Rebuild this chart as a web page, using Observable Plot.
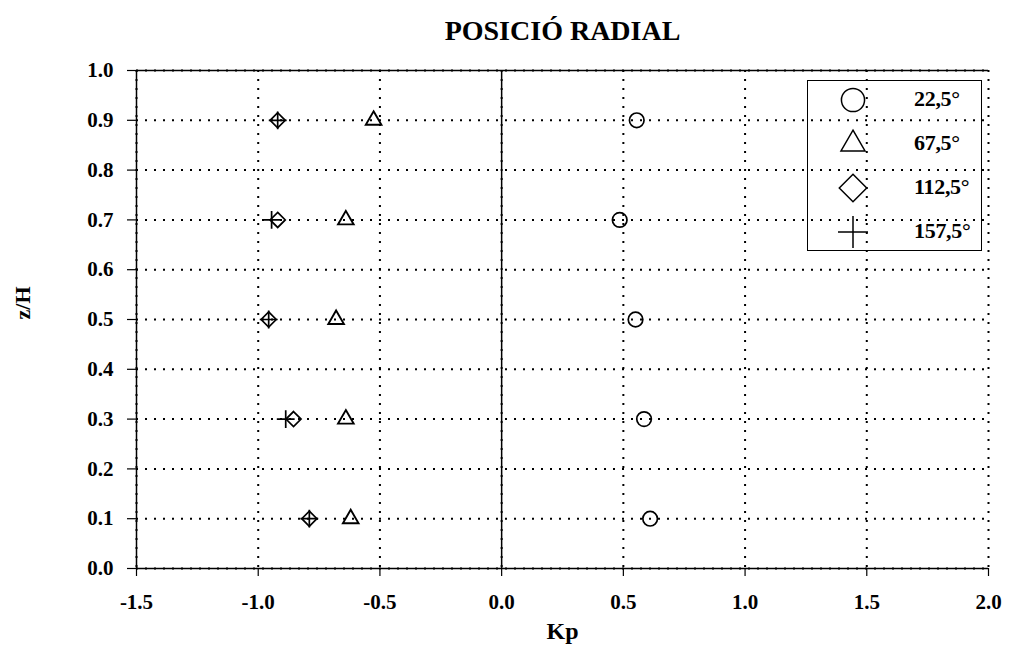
<!DOCTYPE html>
<html>
<head>
<meta charset="utf-8">
<script src="https://cdn.jsdelivr.net/npm/d3@7"></script>
<script src="https://cdn.jsdelivr.net/npm/@observablehq/plot@0.6"></script>
<style>
  html, body { margin: 0; padding: 0; background: #fff; }
  #wrap { position: relative; width: 1010px; height: 656px; font-family: "Liberation Serif", "DejaVu Serif", serif; }
  #legend { position: absolute; left: 807px; top: 80px; width: 175px; height: 171px; border: 1.5px solid #000; box-sizing: border-box; }
  .row { position: absolute; left: 0; width: 100%; height: 40px; }
  .row svg { position: absolute; left: 30px; top: 3px; }
  .row span { position: absolute; left: 106px; top: 5px; font-family: "Liberation Serif", serif; font-weight: bold; font-size: 22px; color: #000; letter-spacing: -0.3px; }
  svg text { font-family: "Liberation Serif", serif; font-weight: bold; }
</style>
</head>
<body>
<div id="wrap"></div>
<script>
// ---- data ----
const zH = [0.1, 0.3, 0.5, 0.7, 0.9];
const kp225 = [0.61, 0.585, 0.55, 0.485, 0.555];
const kp675 = [-0.62, -0.64, -0.68, -0.64, -0.526];
const kp1125 = [-0.79, -0.855, -0.957, -0.92, -0.92];
const kp1575 = [-0.79, -0.887, -0.957, -0.945, -0.92];
const seriesLabels = ["22,5°", "67,5°", "112,5°", "157,5°"];
const xTicks = [-1.5, -1.0, -0.5, 0.0, 0.5, 1.0, 1.5, 2.0];
const yTicks = [0.0, 0.1, 0.2, 0.3, 0.4, 0.5, 0.6, 0.7, 0.8, 0.9, 1.0];
const titleText = "POSICIÓ RADIAL";

const toRows = (kp) => kp.map((k, i) => ({kp: k, z: zH[i]}));
const s1 = toRows(kp225), s2 = toRows(kp675), s3 = toRows(kp1125), s4 = toRows(kp1575);

const fmt = d => d.toFixed(1);
const dotted = "2,7";

const chart = Plot.plot({
  width: 1010,
  height: 656,
  marginTop: 70,
  marginLeft: 136,
  marginRight: 22,
  marginBottom: 88,
  style: {fontFamily: "'Liberation Serif', serif", fontWeight: "bold", fontSize: "22px", color: "#000", background: "#fff"},
  x: {domain: [-1.5, 2.0]},
  y: {domain: [0, 1]},
  marks: [
    Plot.gridX(xTicks, {stroke: "#000", strokeOpacity: 1, strokeWidth: 2, strokeDasharray: dotted}),
    Plot.gridY(yTicks, {stroke: "#000", strokeOpacity: 1, strokeWidth: 2, strokeDasharray: dotted}),
    Plot.ruleY([1], {stroke: "#000", strokeWidth: 1.5}),
    Plot.ruleY([0], {stroke: "#000", strokeWidth: 1.5}),
    Plot.ruleX([-1.5], {stroke: "#000", strokeWidth: 1.5}),
    Plot.ruleX([0], {stroke: "#000", strokeWidth: 1.5}),
    Plot.axisX(xTicks, {tickFormat: fmt, tickSize: 8, tickPadding: 18, label: null, strokeWidth: 1.2}),
    Plot.axisY(yTicks, {tickFormat: fmt, tickSize: 9, tickPadding: 14, label: null, strokeWidth: 1.2}),
    Plot.dot(s1, {x: "kp", y: "z", symbol: "circle", r: 7.3, stroke: "#000", strokeWidth: 1.7, fill: "none"}),
    Plot.dot(s2, {x: "kp", y: "z", symbol: "triangle", r: 5.8, stroke: "#000", strokeWidth: 1.9, fill: "none"}),
    Plot.dot(s3, {x: "kp", y: "z", symbol: "diamond2", r: 6.8, stroke: "#000", strokeWidth: 1.7, fill: "none"}),
    Plot.dot(s4, {x: "kp", y: "z", symbol: "plus", r: 5.8, stroke: "#000", strokeWidth: 1.7, fill: "none"}),
    Plot.text([titleText], {frameAnchor: "top", dy: -50, fontSize: 28, fontWeight: "bold", text: d => d}),
    Plot.text(["Kp"], {frameAnchor: "bottom", dy: 70, fontSize: 24, fontWeight: "bold", text: d => d}),
    Plot.text(["z/H"], {frameAnchor: "left", dx: -114, rotate: -90, fontSize: 22, fontWeight: "bold", text: d => d})
  ]
});

// enlarge tick labels (numeric labels like "0.5", "-1.5")
d3.select(chart).selectAll("text").each(function () {
  if (/^-?\d\.\d$/.test(this.textContent.trim())) {
    this.style.fontSize = "21px";
    this.style.fontFamily = "'Liberation Serif', serif";
    this.style.fontWeight = "bold";
  }
});

const wrap = document.getElementById("wrap");
wrap.appendChild(chart);

// legend
const legend = document.createElement("div");
legend.id = "legend";
const legendSymbols = [d3.symbolCircle, d3.symbolTriangle, d3.symbolDiamond2, d3.symbolPlus];
const legendSizes = [420, 250, 480, 420];
seriesLabels.forEach((lab, i) => {
  const row = document.createElement("div");
  row.className = "row";
  row.style.top = (i * 44) + "px";
  const svg = d3.create("svg").attr("width", 30).attr("height", 32);
  svg.append("path")
    .attr("transform", "translate(15,16)")
    .attr("d", d3.symbol(legendSymbols[i], legendSizes[i])())
    .attr("fill", "none").attr("stroke", "#000").attr("stroke-width", 1.5);
  row.appendChild(svg.node());
  const sp = document.createElement("span");
  sp.textContent = lab;
  row.appendChild(sp);
  legend.appendChild(row);
});
wrap.appendChild(legend);
</script>
</body>
</html>
